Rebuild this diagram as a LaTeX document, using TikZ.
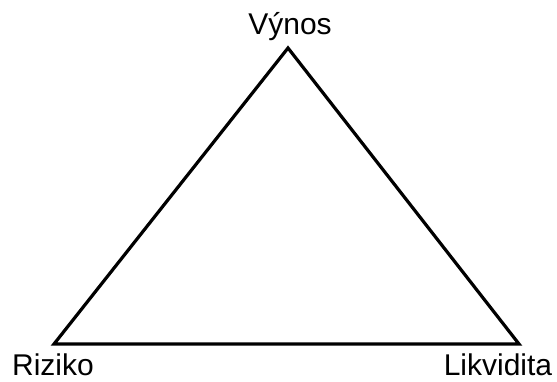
\documentclass[tikz,border=0pt]{standalone}
\usepackage{fontspec}
\setmainfont{Liberation Sans}
\begin{document}
\begin{tikzpicture}[x=1pt,y=-1pt,
  lbl/.style={font=\fontsize{30}{35}\selectfont, anchor=base, inner sep=0pt},
  edge/.style={line width=3.2pt, line join=miter}]
\useasboundingbox (0,0) rectangle (557,381);
\coordinate (top) at (288,48);
\coordinate (left) at (54,344);
\coordinate (right) at (519,344);
\draw[edge] (top) -- (right) -- (left) -- cycle;
\node[lbl] (vynos) at (290,34) {Výnos};
\node[lbl] (riziko) at (53,375) {Riziko};
\node[lbl] (likvidita) at (498,375) {Likvidita};
\end{tikzpicture}
\end{document}
